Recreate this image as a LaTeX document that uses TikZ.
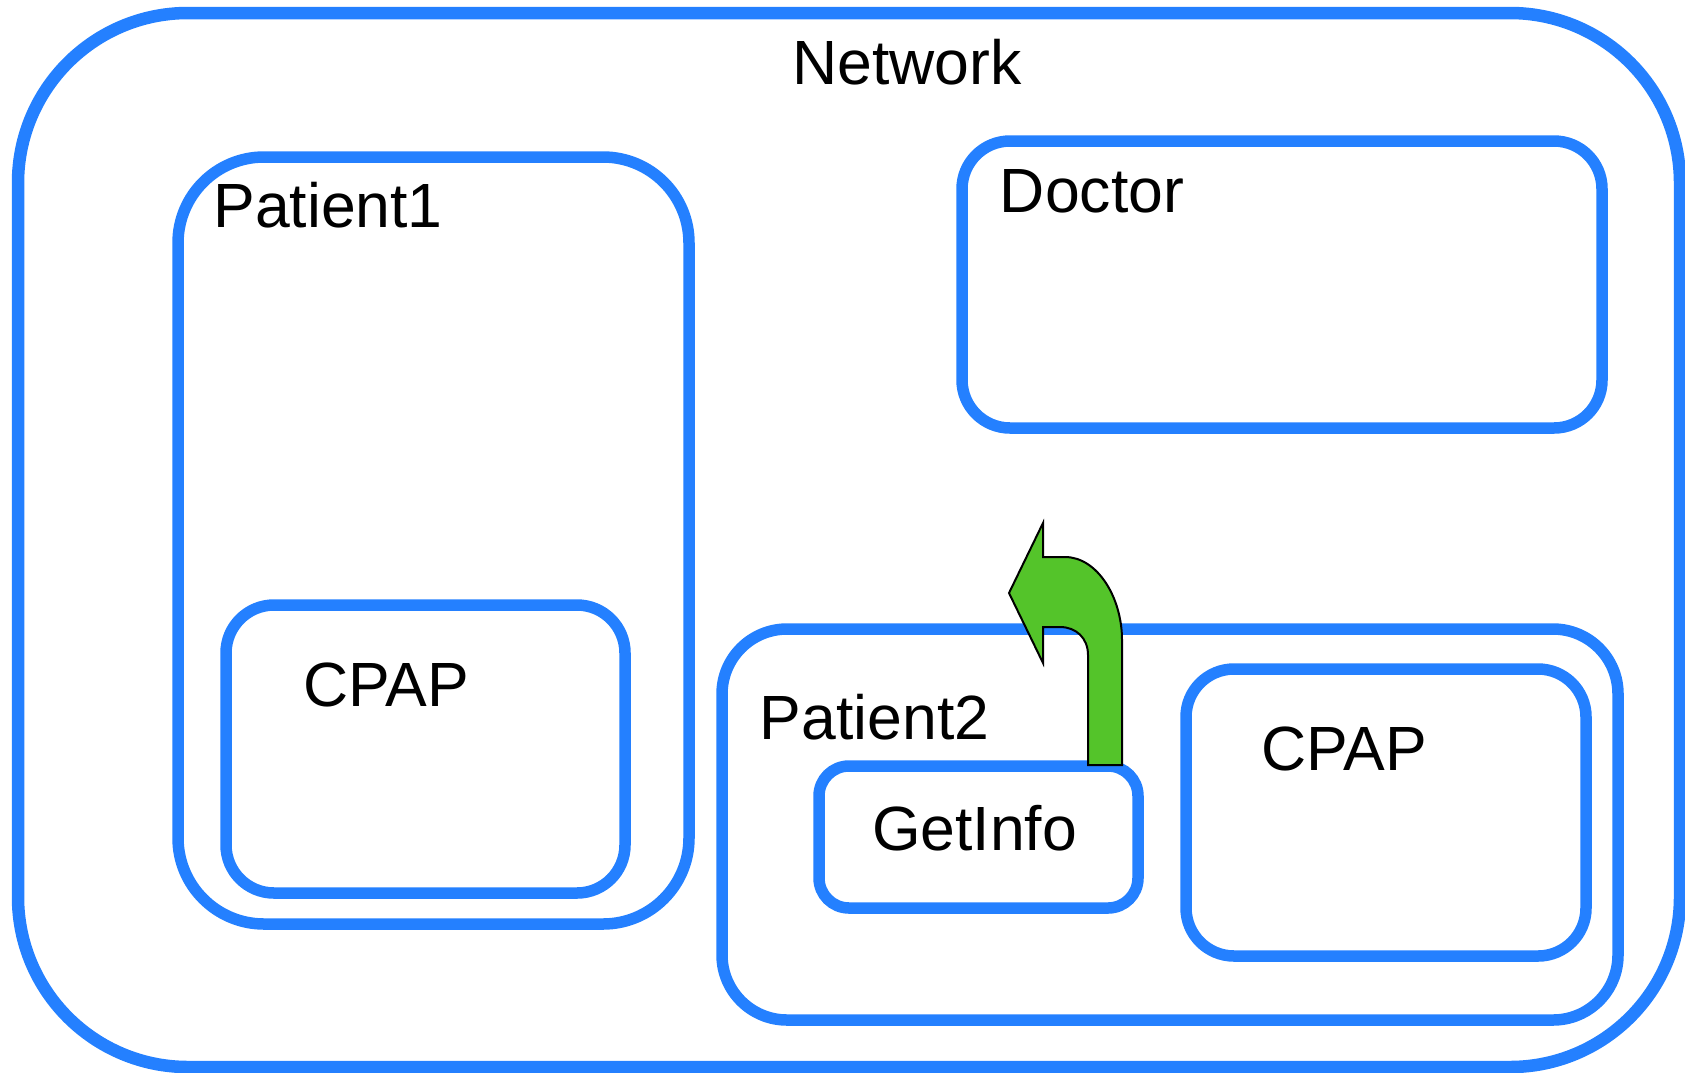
\documentclass[tikz,border=0pt]{standalone}
\usepackage{fontspec}
\setmainfont{Liberation Sans}
\definecolor{boxblue}{RGB}{36,128,255}
\definecolor{arrowgreen}{RGB}{84,196,42}
\begin{document}
\begin{tikzpicture}[x=1pt,y=-1pt,
  box/.style={draw=boxblue, line width=11.5pt, inner sep=0pt, outer sep=0pt},
  lbl/.style={anchor=base, inner sep=0pt, font=\fontsize{62.5}{75}\selectfont}]
\useasboundingbox (0,0) rectangle (1685,1072);
\node[box, line width=12.5pt, rounded corners=170pt, minimum width=1662pt, minimum height=1054pt] (net) at (849,540) {};
\node[box, rounded corners=86pt, minimum width=511pt, minimum height=767pt] (p1) at (433.5,540.5) {};
\node[box, rounded corners=48pt, minimum width=399pt, minimum height=288pt] (cpap1) at (425.5,749) {};
\node[box, rounded corners=48pt, minimum width=640pt, minimum height=287pt] (doc) at (1282,284.5) {};
\node[box, rounded corners=65pt, minimum width=896pt, minimum height=391pt] (p2) at (1170,824.5) {};
\node[box, rounded corners=48pt, minimum width=400pt, minimum height=287pt] (cpap2) at (1386,812.5) {};
\node[box, rounded corners=30pt, minimum width=319pt, minimum height=142pt] (get) at (978.5,837) {};
\node[lbl] (netl) at (907,84) {Network};
\node[lbl] (p1l) at (328,227) {Patient1};
\node[lbl] (docl) at (1092,212) {Doctor};
\node[lbl] (cpap1l) at (386,706) {CPAP};
\node[lbl] (p2l) at (874.5,739) {Patient2};
\node[lbl] (getl) at (974.5,850) {GetInfo};
\node[lbl] (cpap2l) at (1344.5,770) {CPAP};
\draw[fill=arrowgreen, draw=black, line width=2pt, line join=miter]
  (1088,765) -- (1088,655) .. controls (1088,638) and (1076,627) .. (1060,627)
  -- (1043,627) -- (1043,663) -- (1009,593) -- (1043,523) -- (1043,557)
  -- (1065,557) .. controls (1097,557) and (1122,597) .. (1122,640)
  -- (1122,765) -- cycle;
\end{tikzpicture}
\end{document}
